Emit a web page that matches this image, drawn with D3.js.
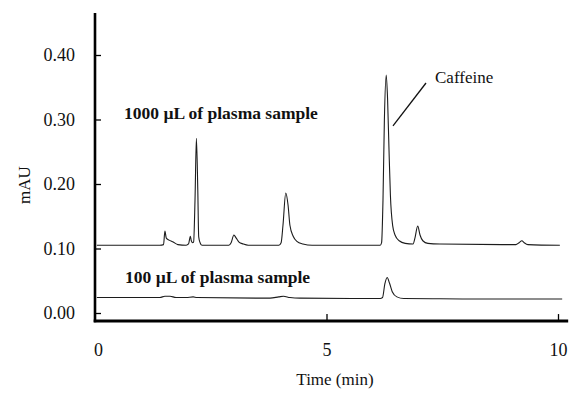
<!DOCTYPE html>
<html>
<head>
<meta charset="utf-8">
<script src="https://cdn.jsdelivr.net/npm/d3@7"></script>
<style>
    body { margin: 0; background: #fff; }
    svg text { font-family: "Liberation Serif", "Times New Roman", serif; fill: #111; }
    .trace { fill: none; stroke: #1c1c1c; stroke-width: 1.1px; }
    .axis .domain { display: none; }
    .axis line { stroke: #000; stroke-width: 1.3px; }
    .axis text { font-size: 18px; }
</style>
</head>
<body>
<script>
    // chromatogram readings [time (min), mAU]
    let trace1000 = [[0.04,0.105],[1.40,0.105],[1.48,0.106],[1.51,0.127],[1.54,0.116],[1.60,0.113],[1.69,0.110],[1.79,0.106],
        [1.97,0.105],[2.02,0.107],[2.06,0.119],[2.08,0.112],[2.11,0.109],[2.13,0.110],[2.16,0.175],[2.19,0.271],[2.22,0.191],
        [2.24,0.118],[2.27,0.109],[2.31,0.105],[2.89,0.105],[2.94,0.109],[3.00,0.121],[3.05,0.116],[3.11,0.110],[3.20,0.107],
        [3.31,0.105],[3.97,0.105],[4.02,0.109],[4.06,0.136],[4.12,0.186],[4.17,0.167],[4.21,0.136],[4.28,0.119],[4.36,0.111],
        [4.49,0.107],[4.69,0.105],[6.16,0.105],[6.19,0.109],[6.22,0.175],[6.25,0.299],[6.29,0.369],[6.32,0.330],[6.35,0.253],
        [6.38,0.183],[6.43,0.135],[6.48,0.121],[6.57,0.112],[6.70,0.108],[6.87,0.107],[6.91,0.116],[6.97,0.135],[7.02,0.121],
        [7.08,0.112],[7.19,0.108],[7.45,0.107],[9.09,0.106],[9.16,0.109],[9.22,0.112],[9.27,0.109],[9.35,0.106],[10.04,0.105]];

    let trace100 = [[0.04,0.024],[1.40,0.024],[1.51,0.026],[1.62,0.026],[1.75,0.024],[1.97,0.024],[2.12,0.025],[2.20,0.024],
        [3.78,0.023],[3.97,0.025],[4.07,0.026],[4.21,0.024],[4.43,0.023],[6.16,0.0225],[6.21,0.024],[6.26,0.045],[6.31,0.055],
        [6.36,0.0465],[6.42,0.033],[6.52,0.025],[6.67,0.0225],[7.45,0.022],[8.75,0.0217],[10.09,0.0217]];

    let yTicks = [0, 0.1, 0.2, 0.3, 0.4];
    let xTicks = [0, 5, 10];
    let label1000 = "1000 \u00b5L of plasma sample";
    let label100 = "100 \u00b5L of plasma sample";

    let serif = "Liberation Serif, Times New Roman, serif";
    let w = 569, h = 395;

    let svg = d3.select("body").append("svg")
        .attr("width", w)
        .attr("height", h);

    let x = d3.scaleLinear().domain([0, 10]).range([95, 558]);
    let y = d3.scaleLinear().domain([0, 0.4]).range([313, 55]);

    // y axis
    svg.append("g")
        .attr("class", "axis")
        .attr("font-family", serif)
        .attr("font-size", 18)
        .attr("transform", "translate(" + x(0) + ",0)")
        .call(d3.axisLeft(y).tickValues(yTicks).tickSize(-6).tickPadding(20).tickFormat(d3.format(".2f")));

    // x axis, tick marks only at 5 and 10
    let xa = svg.append("g")
        .attr("class", "axis")
        .attr("font-family", serif)
        .attr("font-size", 18)
        .attr("transform", "translate(0," + y(-0.0125) + ")")
        .call(d3.axisBottom(x).tickValues(xTicks).tickSize(-7).tickPadding(22));
    xa.selectAll(".tick line").filter(d => d == 0).remove();
    xa.selectAll(".tick text").filter(d => d == 0).attr("dx", 3);

    // heavy frame lines
    svg.append("line")
        .attr("x1", x(0)).attr("x2", x(0))
        .attr("y1", y(0.4651)).attr("y2", y(-0.0145))
        .attr("stroke", "#000").attr("stroke-width", 2.6);
    svg.append("line")
        .attr("x1", x(0) - 1.3).attr("x2", x(10.22))
        .attr("y1", y(-0.0125)).attr("y2", y(-0.0125))
        .attr("stroke", "#000").attr("stroke-width", 3);

    let line = d3.line()
        .x(d => x(d[0]))
        .y(d => y(d[1]))
        .curve(d3.curveMonotoneX);

    svg.append("path").attr("class", "trace").attr("d", line(trace1000));
    svg.append("path").attr("class", "trace").attr("d", line(trace100));

    // labels
    svg.append("text")
        .text(label1000)
        .attr("x", 124).attr("y", 119)
        .style("font-size", "17.5px").style("font-weight", "bold");

    svg.append("text")
        .text(label100)
        .attr("x", 125).attr("y", 283)
        .style("font-size", "17.5px").style("font-weight", "bold");

    svg.append("text")
        .text("Caffeine")
        .attr("x", 435).attr("y", 83)
        .style("font-size", "17px");

    svg.append("line")
        .attr("x1", x(7.149)).attr("y1", y(0.3566))
        .attr("x2", x(6.436)).attr("y2", y(0.290))
        .attr("stroke", "#111").attr("stroke-width", 1.3);

    svg.append("text")
        .text("Time (min)")
        .attr("x", 335).attr("y", 385)
        .style("text-anchor", "middle")
        .style("font-size", "17px");

    svg.append("text")
        .text("mAU")
        .attr("transform", "translate(30,185) rotate(-90)")
        .style("text-anchor", "middle")
        .style("font-size", "17px");
</script>
</body>
</html>
